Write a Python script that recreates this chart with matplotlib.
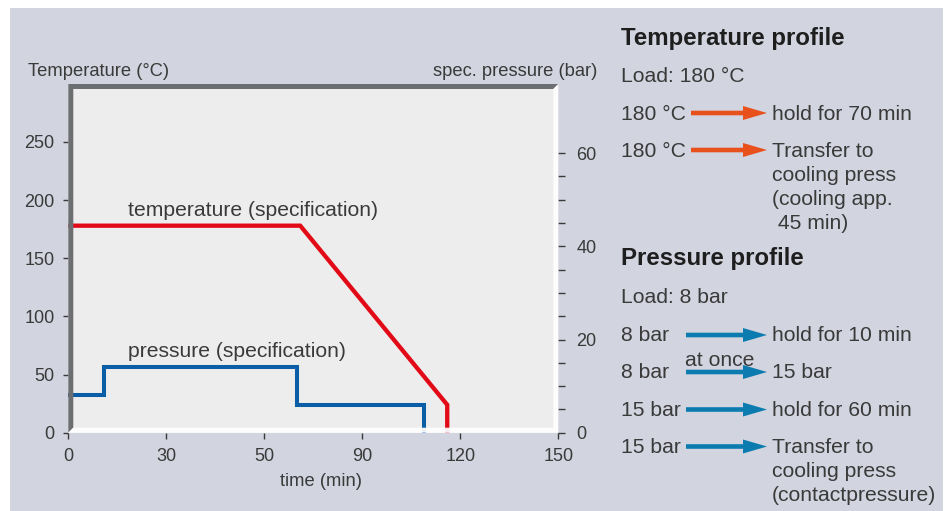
import matplotlib
matplotlib.use('Agg')
import matplotlib.pyplot as plt
from matplotlib.patches import Rectangle, Polygon, FancyArrow
from matplotlib.transforms import Affine2D

# ---------------- data ----------------
temp_time = [0, 71, 116, 116]
temp_vals = [178, 178, 24, 0]
press_time = [0, 11, 70, 109]
press_vals = [8, 14, 6, 0]
x_ticks = [0, 30, 60, 90, 120, 150]
x_tick_labels = ['0', '30', '50', '90', '120', '150']
temp_ticks = [0, 50, 100, 150, 200, 250]
press_major = [0, 20, 40, 60]
press_minor = [5, 10, 15, 25, 30, 35, 45, 50, 55]

plt.rcParams['font.family'] = ['Liberation Sans', 'DejaVu Sans']
TXT = '#3a3a3a'

W, H = 949, 511
fig = plt.figure(figsize=(W / 100, H / 100), dpi=100)
fig.patch.set_facecolor('white')
pix = Affine2D().scale(1 / W, -1 / H).translate(0, 1) + fig.transFigure

# background panel
fig.add_artist(Rectangle((10, 8), 933, 503, transform=pix, facecolor='#d2d4df',
                         edgecolor='none', zorder=-5))

# axes geometry (pixels)
L, R, T, B = 68.3, 558.3, 86.0, 432.7
ax = fig.add_axes([L / W, 1 - B / H, (R - L) / W, (B - T) / H])
ax.set_facecolor('#ecedec')
ax.set_xlim(0, 150)
ax.set_ylim(0, 298.1)
ax2 = ax.twinx()
ax2.set_ylim(0, 74.4)

for a in (ax, ax2):
    for s in a.spines.values():
        s.set_visible(False)

ax.plot(temp_time, temp_vals, color='#e30a17', lw=3.1,
        solid_joinstyle='miter', solid_capstyle='butt')
ax2.plot(press_time, press_vals, drawstyle='steps-post', color='#0a5ea8', lw=2.9,
         solid_joinstyle='miter', solid_capstyle='butt')

ax.set_xticks(x_ticks, x_tick_labels)
ax.tick_params(axis='x', direction='out', length=4.3, width=1, pad=6.5,
               labelsize=13, colors=TXT)
ax.set_yticks(temp_ticks)
ax.tick_params(axis='y', direction='out', length=3.6, width=1, pad=6.3,
               labelsize=13, colors=TXT)
ax2.set_yticks(press_major)
ax2.set_yticks(press_minor, minor=True)
ax2.tick_params(axis='y', which='both', direction='out', length=5, width=1,
                pad=8, labelsize=13, colors=TXT)

# frame: grey left/top, white right/bottom
fig.add_artist(Polygon([(L, B), (L, 84), (R, 84), (R - 5, 89), (L + 5, 89), (L + 5, B - 5)],
                       closed=True, transform=pix, facecolor='#6d6e71',
                       edgecolor='none', zorder=5))
fig.add_artist(Polygon([(L, B), (L + 5, B - 5), (R - 5, B - 5), (R - 5, 89), (R, 84), (R, B)],
                       closed=True, transform=pix, facecolor='white', alpha=0.92,
                       edgecolor='none', zorder=5))

# axis titles and in-plot labels
fig.text(28, 75.7, 'Temperature (°C)', transform=pix, fontsize=13.2, color=TXT,
         ha='left', va='baseline')
fig.text(597, 75.7, 'spec. pressure (bar)', transform=pix, fontsize=13.2, color=TXT,
         ha='right', va='baseline')
fig.text(321, 486.5, 'time (min)', transform=pix, fontsize=13.2, color=TXT,
         ha='center', va='baseline')
ax.text(18.2, 186.6, 'temperature (specification)', fontsize=15.2, color=TXT,
        ha='left', va='baseline')
ax.text(18.2, 65.1, 'pressure (specification)', fontsize=15.2, color=TXT,
        ha='left', va='baseline')

# right-hand legend text
FS = 15.2
def t(x, y, s, **kw):
    fig.text(x, y, s, transform=pix, fontsize=kw.pop('fontsize', FS), color=kw.pop('color', TXT),
             ha='left', va='baseline', **kw)

def arrow(x0, x1, y, color):
    fig.add_artist(FancyArrow(x0, y, x1 - x0, 0, width=4.6, head_width=14, head_length=24,
                              length_includes_head=True, transform=pix, color=color,
                              linewidth=0, zorder=5))

ORANGE = '#e8501c'
BLUE = '#0b7bb0'

t(621, 45, 'Temperature profile', fontsize=17.3, fontweight='bold', color='#1e1e1e')
t(621, 82.3, 'Load: 180 °C')
t(621, 120, '180 °C'); arrow(691, 767, 113, ORANGE); t(772, 120, 'hold for 70 min')
t(621, 157, '180 °C'); arrow(691, 767, 150, ORANGE)
t(772, 157, 'Transfer to'); t(772, 181, 'cooling press')
t(772, 205, '(cooling app.'); t(772, 229, ' 45 min)')

t(621, 265, 'Pressure profile', fontsize=17.3, fontweight='bold', color='#1e1e1e')
t(621, 303.3, 'Load: 8 bar')
t(621, 341, '8 bar'); arrow(686, 767, 335, BLUE); t(772, 341, 'hold for 10 min')
t(685, 366, 'at once')
t(621, 378.5, '8 bar'); arrow(686, 767, 372, BLUE); t(772, 378.5, '15 bar')
t(621, 416, '15 bar'); arrow(686, 767, 409.5, BLUE); t(772, 416, 'hold for 60 min')
t(621, 453, '15 bar'); arrow(686, 767, 446.5, BLUE)
t(772, 453, 'Transfer to'); t(772, 477, 'cooling press'); t(772, 501, '(contactpressure)')

fig.savefig('out.png', dpi=100, facecolor=fig.get_facecolor())
